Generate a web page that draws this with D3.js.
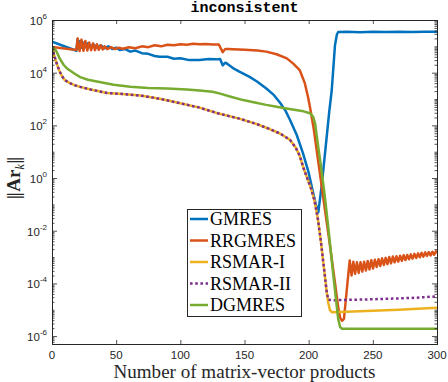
<!DOCTYPE html>
<html>
<head>
<meta charset="utf-8">
<script src="https://cdn.jsdelivr.net/npm/d3@7"></script>
<style>
  body { margin: 0; background: #fff; }
  svg { display: block; }
</style>
</head>
<body>
<script>
// iteration counts and ||A r_k|| values
var gmresIt = [0, 19, 20, 21, 22, 23, 24, 26, 28, 30, 32, 35, 38, 41, 44, 47, 50, 53, 57, 61, 65, 70, 75, 80, 84, 90, 95, 100, 107, 115, 122, 128, 131, 133, 135, 137, 141, 146, 154, 160, 167, 173, 178, 182, 185.5, 190.7, 195.6, 200, 203, 205.7, 207.5, 210, 213, 216, 218, 220.5, 222, 223, 230, 240, 250, 260, 270, 280, 290, 300];
var gmresVal = [1.5e5, 6.8e4, 1.9e5, 1.0e5, 1.6e5, 8.9e4, 1.4e5, 9.5e4, 1.3e5, 9.1e4, 1.2e5, 8.9e4, 1.1e5, 8.5e4, 1.0e5, 7.9e4, 8.9e4, 7.2e4, 7.9e4, 6.3e4, 6.9e4, 5.5e4, 5.2e4, 4.3e4, 4.0e4, 4.0e4, 3.4e4, 3.5e4, 3.0e4, 3.0e4, 3.3e4, 3.2e4, 3.3e4, 1.9e4, 2.4e4, 2.1e4, 1.5e4, 1.1e4, 6.9e3, 4.5e3, 2.5e3, 1.4e3, 690, 355, 160, 43, 8.7, 1.6, 0.35, 0.093, 0.05, 0.45, 11.5, 320, 2.2e3, 1.1e5, 2.8e5, 3.5e5, 3.6e5, 3.4e5, 3.6e5, 3.5e5, 3.6e5, 3.5e5, 3.6e5, 3.6e5];

var rrgmresIt = [0, 19, 20, 21.5, 23, 24.5, 26, 27.5, 29, 30.5, 32, 33.5, 35, 36.5, 38, 39.5, 41, 43, 46, 49, 52, 55, 60, 65, 70, 75, 80, 85, 90, 95, 100, 105, 110, 115, 120, 125, 130, 133, 135, 137, 141, 150, 160, 167, 175, 183, 188, 193, 197, 199.5, 201, 204, 208, 212, 216, 220, 223, 224.5, 226, 227.5, 229, 231,
  232, 233.4, 234.8, 236.2, 237.6, 239, 240.4, 241.8, 243.2, 244.6, 246, 247.4, 248.8, 250.2, 251.6, 253, 254.4, 255.8, 257.2, 258.6, 260, 261.4, 262.8, 264.2, 265.6, 267, 268.4, 269.8, 271.2, 272.6, 274, 275.4, 276.8, 278.2, 279.6, 281, 282.4, 283.8, 285.2, 286.6, 288, 289.4, 290.8, 292.2, 293.6, 295, 296.4, 297.8, 299.2, 300];
var rrgmresVal = [9.5e4, 7.2e4, 2.0e5, 6.6e4, 1.8e5, 6.8e4, 1.6e5, 6.9e4, 1.4e5, 7.1e4, 1.3e5, 7.2e4, 1.2e5, 7.4e4, 1.1e5, 7.6e4, 1.0e5, 7.8e4, 9.3e4, 7.9e4, 8.9e4, 8.1e4, 9.3e4, 8.5e4, 1.0e5, 9.3e4, 1.1e5, 1.0e5, 1.15e5, 1.1e5, 1.2e5, 1.15e5, 1.26e5, 1.2e5, 1.23e5, 1.17e5, 1.17e5, 6.0e4, 7.9e4, 7.9e4, 7.8e4, 7.4e4, 6.9e4, 6.3e4, 5.0e4, 3.5e4, 2.2e4, 1.26e4, 4.0e3, 1.2e3, 500, 71, 2.8, 0.11, 4.5e-3, 1.6e-4, 1.26e-5, 5.0e-6, 3.8e-6, 4.5e-6, 2.5e-5, 2.5e-4,
  7.4e-4, 2.0e-4, 6.6e-4, 2.3e-4, 6.3e-4, 2.5e-4, 6.3e-4, 2.8e-4, 6.6e-4, 3.1e-4, 7.1e-4, 3.4e-4, 7.6e-4, 3.7e-4, 7.9e-4, 4.2e-4, 8.3e-4, 4.6e-4, 8.9e-4, 5.0e-4, 9.3e-4, 5.4e-4, 1.0e-3, 5.8e-4, 1.05e-3, 6.3e-4, 1.07e-3, 6.7e-4, 1.12e-3, 7.2e-4, 1.17e-3, 7.7e-4, 1.2e-3, 8.2e-4, 1.26e-3, 8.7e-4, 1.32e-3, 9.2e-4, 1.38e-3, 9.8e-4, 1.45e-3, 1.04e-3, 1.5e-3, 1.1e-3, 1.55e-3, 1.15e-3, 1.6e-3, 1.22e-3, 1.66e-3, 1.4e-3];

var rsmar1It = [0, 2, 4, 6, 8, 10, 14, 18, 22, 30, 43, 55, 69, 85, 100, 115, 130, 146, 160, 170, 178, 185.5, 190, 193, 196, 199, 202, 204.5, 207, 209.5, 212, 214, 215.3, 216.5, 218, 240, 270, 300];
var rsmar1Val = [9.5e4, 4.0e4, 2.0e4, 1.1e4, 7.1e3, 5.2e3, 4.0e3, 3.3e3, 2.9e3, 2.3e3, 1.7e3, 1.55e3, 1.35e3, 1.0e3, 690, 470, 280, 180, 110, 71, 48, 28, 14, 7.1, 2.4, 0.95, 0.38, 0.14, 0.032, 4.0e-3, 3.5e-4, 5.0e-5, 1.8e-5, 1.0e-5, 8.1e-6, 8.7e-6, 1.0e-5, 1.2e-5];

var rsmar2It = [0, 2, 4, 6, 8, 10, 14, 18, 22, 30, 43, 55, 69, 85, 100, 115, 130, 146, 160, 170, 178, 185.5, 190, 193, 196, 199, 202, 204.5, 207, 209.5, 212, 214, 215.3, 220, 250, 280, 300];
var rsmar2Val = [9.5e4, 4.0e4, 2.0e4, 1.1e4, 7.1e3, 5.2e3, 4.0e3, 3.3e3, 2.9e3, 2.3e3, 1.7e3, 1.55e3, 1.35e3, 1.0e3, 690, 470, 280, 180, 110, 71, 48, 28, 14, 7.1, 2.4, 0.95, 0.38, 0.14, 0.032, 4.0e-3, 3.5e-4, 5.0e-5, 2.4e-5, 2.3e-5, 2.5e-5, 2.8e-5, 3.2e-5];

var dgmresIt = [0, 3, 6, 9, 12, 14, 18, 22, 28, 37, 48, 61, 75, 90, 105, 115, 125, 131, 140, 149, 158, 167, 175, 182.5, 190, 196, 201, 203.5, 205, 207, 210, 212.7, 216, 219, 221.5, 223, 224.5, 226, 260, 300];
var dgmresVal = [9.5e4, 7.1e4, 3.5e4, 2.0e4, 1.4e4, 1.2e4, 8.9e3, 6.8e3, 5.4e3, 4.4e3, 3.5e3, 2.9e3, 2.6e3, 2.5e3, 2.3e3, 2.1e3, 1.9e3, 1.6e3, 1.2e3, 910, 740, 600, 510, 440, 380, 340, 290, 210, 120, 22, 2.0, 0.18, 6.3e-3, 2.5e-4, 2.0e-5, 4.5e-6, 2.2e-6, 1.9e-6, 1.9e-6, 1.9e-6];

var names = ['GMRES', 'RRGMRES', 'RSMAR-I', 'RSMAR-II', 'DGMRES'];
var colors = ['#0072BD', '#D95319', '#EDB120', '#7E2F8E', '#77AC30'];

var xTicks = [0, 50, 100, 150, 200, 250, 300];
var yExps = [-6, -4, -2, 0, 2, 4, 6];

(function() {

    var W = 448, H = 382;
    var pL = 52, pR = 437, pT = 20, pB = 344; // plot box
    var ink = '#262626';
    var serif = "'Liberation Serif', 'Times New Roman', serif";
    var sans = "'Liberation Sans', Arial, sans-serif";

    var svg = d3.select('body').append('svg')
        .attr('width', W)
        .attr('height', H);

    var x = d3.scaleLinear().domain([0, 300]).range([pL, pR]);
    var y = d3.scaleLog().domain([5e-7, 1e6]).range([pB, pT]);

    // build series from the arrays
    var series = [
        [gmresIt, gmresVal],
        [rrgmresIt, rrgmresVal],
        [rsmar1It, rsmar1Val],
        [rsmar2It, rsmar2Val],
        [dgmresIt, dgmresVal]
    ].map(function(s, i) {
        return {
            name: names[i],
            color: colors[i],
            pts: s[0].map(function(n, j) { return [n, s[1][j]]; })
        };
    });

    svg.append('clipPath').attr('id', 'clip')
        .append('rect')
        .attr('x', pL).attr('y', pT)
        .attr('width', pR - pL).attr('height', pB - pT);

    var line = d3.line()
        .x(function(d) { return x(d[0]); })
        .y(function(d) { return y(d[1]); });

    var plot = svg.append('g').attr('clip-path', 'url(#clip)');

    plot.selectAll('path')
        .data(series)
        .enter().append('path')
        .attr('d', function(d) { return line(d.pts); })
        .attr('fill', 'none')
        .attr('stroke', function(d) { return d.color; })
        .attr('stroke-width', 2.5)
        .attr('stroke-linejoin', 'round')
        .attr('stroke-dasharray', function(d) { return d.name === 'RSMAR-II' ? '2.6,2.6' : null; });

    // minor ticks for the log axis
    var minor = [];
    for (var e = -7; e <= 5; e++) {
        for (var k = 1; k <= 9; k++) {
            var v = k * Math.pow(10, e);
            if (v < 5e-7 || v > 1e6) continue;
            if (k === 1 && e % 2 === 0) continue;
            minor.push(v);
        }
    }
    var major = yExps.map(function(p) { return Math.pow(10, p); });

    // axes, ticks point inward like MATLAB
    svg.append('g')
        .attr('transform', 'translate(0,' + pB + ')')
        .call(d3.axisBottom(x).tickValues(xTicks).tickSize(-4).tickFormat(''));
    svg.append('g')
        .attr('transform', 'translate(0,' + pT + ')')
        .call(d3.axisTop(x).tickValues(xTicks).tickSize(-4).tickFormat(''));
    svg.append('g')
        .attr('transform', 'translate(' + pL + ',0)')
        .call(d3.axisLeft(y).tickValues(major).tickSize(-5).tickFormat(''));
    svg.append('g')
        .attr('transform', 'translate(' + pL + ',0)')
        .call(d3.axisLeft(y).tickValues(minor).tickSize(-2.5).tickFormat(''));
    svg.append('g')
        .attr('transform', 'translate(' + pR + ',0)')
        .call(d3.axisRight(y).tickValues(major).tickSize(-5).tickFormat(''));
    svg.append('g')
        .attr('transform', 'translate(' + pR + ',0)')
        .call(d3.axisRight(y).tickValues(minor).tickSize(-2.5).tickFormat(''));

    svg.selectAll('.domain').attr('stroke', ink).attr('stroke-width', 1);
    svg.selectAll('.tick line').attr('stroke', ink).attr('stroke-width', 0.8);

    // tick labels
    svg.append('g').selectAll('text')
        .data(xTicks)
        .enter().append('text')
        .attr('x', function(d) { return x(d); })
        .attr('y', 359)
        .attr('text-anchor', 'middle')
        .attr('font-family', sans)
        .attr('font-size', 11.5)
        .attr('fill', ink)
        .text(function(d) { return d; });

    var yl = svg.append('g').selectAll('text')
        .data(yExps)
        .enter().append('text')
        .attr('x', 47)
        .attr('y', function(d) { return y(Math.pow(10, d)) + 5; })
        .attr('text-anchor', 'end')
        .attr('font-family', sans)
        .attr('font-size', 11.5)
        .attr('fill', ink);
    yl.append('tspan').text('10');
    yl.append('tspan')
        .attr('dy', -6)
        .attr('font-size', 8)
        .text(function(d) { return d; });

    // title
    svg.append('text')
        .attr('x', (pL + pR) / 2)
        .attr('y', 12)
        .attr('text-anchor', 'middle')
        .attr('font-family', "'Liberation Mono', 'Courier New', monospace")
        .attr('font-weight', 'bold')
        .attr('font-size', 15)
        .attr('fill', '#000')
        .text('inconsistent');

    // x label
    svg.append('text')
        .attr('x', (pL + pR) / 2)
        .attr('y', 378)
        .attr('text-anchor', 'middle')
        .attr('font-family', serif)
        .attr('font-size', 18)
        .attr('textLength', 262)
        .attr('lengthAdjust', 'spacingAndGlyphs')
        .attr('fill', ink)
        .text('Number of matrix-vector products');

    // y label ||A r_k||
    var ylab = svg.append('text')
        .attr('transform', 'translate(20,178) rotate(-90)')
        .attr('text-anchor', 'middle')
        .attr('font-family', serif)
        .attr('font-size', 19)
        .attr('fill', ink);
    ylab.append('tspan').attr('font-family', "'DejaVu Serif', serif").attr('font-size', 16).text('\u2016');
    ylab.append('tspan').attr('font-weight', 'bold').text('Ar');
    ylab.append('tspan').attr('font-style', 'italic').attr('font-size', 12).attr('dy', 4).text('k');
    ylab.append('tspan').attr('font-family', "'DejaVu Serif', serif").attr('font-size', 16).attr('dy', -4).text('\u2016');

    // legend
    var lg = svg.append('g');
    lg.append('rect')
        .attr('x', 187.5).attr('y', 209.5)
        .attr('width', 114).attr('height', 107)
        .attr('fill', '#fff')
        .attr('stroke', ink)
        .attr('stroke-width', 1);

    var items = lg.selectAll('g.item')
        .data(series)
        .enter().append('g')
        .attr('class', 'item')
        .attr('transform', function(d, i) { return 'translate(0,' + (219 + i * 21.5) + ')'; });

    items.append('line')
        .attr('x1', 190).attr('x2', 208)
        .attr('stroke', function(d) { return d.color; })
        .attr('stroke-width', 2.5)
        .attr('stroke-dasharray', function(d) { return d.name === 'RSMAR-II' ? '2.6,2.6' : null; });

    items.append('text')
        .attr('x', 210)
        .attr('y', 6)
        .attr('font-family', serif)
        .attr('font-size', 18)
        .attr('fill', '#000')
        .text(function(d) { return d.name; });

})();
</script>
</body>
</html>
